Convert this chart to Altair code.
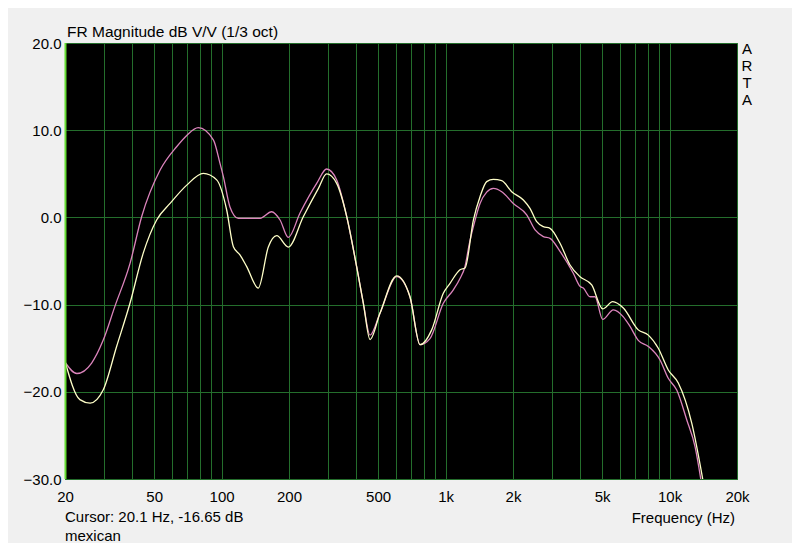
import altair as alt
import pandas as pd

# ---- data ----
pink_freq = [20, 22.6, 26.3, 29.6, 33.4, 39.0, 44.0, 53.1, 63.0, 69.9, 78.7, 91.9, 98.4, 101.8, 109,
             118.7, 135, 148.5, 167.3, 182.4, 198.6, 224, 265.8, 294.5, 326.5, 362, 400.9, 429.5, 460,
             509.5, 605, 693.5, 769, 852, 977, 1083, 1160, 1222, 1277, 1331, 1425, 1526, 1634, 1781,
             2007, 2303, 2510, 2731, 2926, 3243, 3717, 3982, 4120, 4415, 4647, 5027, 5611, 6217, 6660,
             7249, 8038, 9066, 9866, 10764, 11927, 12994, 13780]
pink_db = [-16.6, -17.9, -16.7, -14.1, -10.2, -5.3, 0.1, 5.4, 8.1, 9.4, 10.3, 8.9, 6.2, 4.7, 1.2,
           -0.1, -0.1, -0.1, 0.65, -0.3, -2.3, 0.5, 3.9, 5.55, 4.3, 0.1, -5.65, -9.85, -13.5,
           -11.0, -6.8, -9.1, -14.6, -13.9, -9.85, -8.3, -7.0, -5.6, -3.0, -1.06, 1.6, 2.9, 3.33, 2.95,
           1.6, 0.3, -1.44, -2.2, -2.4, -3.9, -6.4, -7.9, -8.1, -9.1, -9.1, -11.7, -10.6, -11.4, -12.5,
           -14.1, -14.8, -16.35, -18.45, -19.8, -23.2, -26.3, -30.0]

white_freq = [20, 23.3, 25.9, 29.6, 34.0, 39.0, 44.7, 51.3, 58.9, 69.9, 82.9, 95.1, 105.4, 112.9,
              120.8, 129.5, 145.9, 161.7, 176.3, 198.6, 231.6, 270.3, 294.5, 326.5, 362, 400.9, 429.5,
              460, 509.5, 605, 693.5, 769, 867, 977, 1047, 1160, 1222, 1331, 1425, 1526, 1634, 1781,
              1973, 2225, 2381, 2552, 2731, 2926, 3243, 3594, 3982, 4492, 5028, 5573, 6217, 7249, 8038,
              8905, 9866, 10940, 12560, 14060]
white_db = [-16.5, -20.9, -21.3, -19.8, -14.8, -9.85, -4.1, -0.3, 1.6, 3.7, 5.05, 4.3, 0.85, -3.36,
            -4.3, -5.65, -8.1, -3.4, -2.1, -3.4, 0.08, 3.3, 4.98, 3.9, 0.1, -5.65, -9.85,
            -14.0, -11.0, -6.7, -9.1, -14.6, -12.9, -8.7, -7.56, -6.0, -5.8, -0.3, 2.37, 4.1, 4.37, 4.21,
            2.95, 2.0, 1.04, -0.49, -1.06, -1.25, -2.97, -5.46, -6.8, -7.75, -10.5, -9.67, -10.4, -12.9, -13.5,
            -15.0, -17.5, -19.0, -23.6, -30.0]

grid_freqs = [20, 30, 40, 50, 60, 70, 80, 90, 100, 200, 300, 400, 500, 600, 700, 800, 900,
              1000, 2000, 3000, 4000, 5000, 6000, 7000, 8000, 9000, 10000, 20000]
y_ticks = [-30, -20, -10, 0, 10, 20]
cursor_freq = [20.1]

title_text = "FR Magnitude dB V/V (1/3 oct)"
cursor_text = "Cursor: 20.1 Hz, -16.65 dB"
name_text = "mexican"
xlabel_text = "Frequency (Hz)"
brand_text = "A\nR\nT\nA"

FONT = "Liberation Sans"
PINK = "#dc84bc"
WHITE = "#ffffc8"
GRID = "#246e2c"

W, H = 672, 436

df = pd.concat([
    pd.DataFrame({"f": pink_freq, "db": pink_db, "s": "pink"}),
    pd.DataFrame({"f": white_freq, "db": white_db, "s": "white"}),
])

x_scale = alt.Scale(type="log", domain=[20, 20000], nice=False)
y_scale = alt.Scale(domain=[-30, 20], nice=False, zero=False)

label_expr = ("indexof([20,50,100,200,500], datum.value) >= 0 ? format(datum.value, 'd') : "
              "indexof([1000,2000,5000,10000,20000], datum.value) >= 0 ? format(datum.value/1000, 'd') + 'k' : ''")

x_axis = alt.Axis(values=grid_freqs, labelExpr=label_expr, title=None, grid=True, gridColor=GRID,
                  gridWidth=1, gridOpacity=1, ticks=False, domain=False, labelFont=FONT, labelFontSize=15,
                  labelColor="#000000", labelPadding=10, labelFlush=False, labelOverlap=False,
                  labelBaseline="top")
y_axis = alt.Axis(values=y_ticks, format=".1f", title=None, grid=True, gridColor=GRID, gridWidth=1,
                  gridOpacity=1, ticks=False, domain=False, labelFont=FONT, labelFontSize=15,
                  labelColor="#000000", labelPadding=4, labelFlush=False, labelOverlap=False,
                  labelBaseline="middle")

base = alt.Chart(df)

pink = base.transform_filter(alt.datum.s == "pink").mark_line(
    color=PINK, strokeWidth=1.3, interpolate="monotone", clip=True
).encode(
    x=alt.X("f:Q", scale=x_scale, axis=x_axis),
    y=alt.Y("db:Q", scale=y_scale, axis=y_axis),
    order="f:Q",
)
white = base.transform_filter(alt.datum.s == "white").mark_line(
    color=WHITE, strokeWidth=1.3, interpolate="monotone", clip=True
).encode(
    x=alt.X("f:Q", scale=x_scale),
    y=alt.Y("db:Q", scale=y_scale),
    order="f:Q",
)

cursor = alt.Chart(pd.DataFrame({"f": cursor_freq})).mark_rule(color="#66dd33", strokeWidth=2).encode(
    x=alt.X("f:Q", scale=x_scale)
)


def label(text, x, y, align="left", baseline="alphabetic", size=15, **kw):
    return alt.Chart(pd.DataFrame({"t": [text]})).mark_text(
        font=FONT, fontSize=size, color="#000000", align=align, baseline=baseline, **kw
    ).encode(text="t:N", x=alt.value(x), y=alt.value(y))


texts = [
    label(title_text, 2, -6, size=15.5),
    label(cursor_text, 0, 479),
    label(name_text, 0, 498),
    label(xlabel_text, 670, 480, align="right"),
    label(brand_text, W + 10, -1, align="center", baseline="top", lineBreak="\n", lineHeight=17),
]

chart = alt.layer(pink, white, cursor, *texts).properties(
    width=W, height=H,
    autosize=alt.AutoSizeParams(type="none"),
    padding={"left": 57, "top": 35, "right": 55, "bottom": 64},
    background="#f0f0f0",
).configure_view(
    fill="#000000", stroke="#38883e", strokeWidth=1
)

chart.save("out.html", embed_options={"renderer": "svg", "actions": False})
